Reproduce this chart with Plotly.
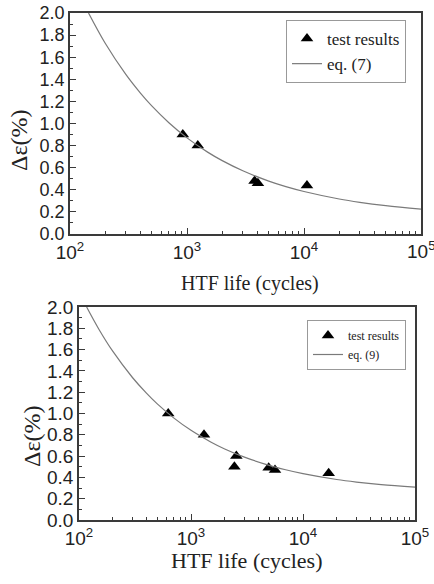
import plotly.graph_objects as go

# --- data ---
top_test_N = [921, 1236, 3780, 4036, 10600]
top_test_de = [0.90, 0.80, 0.48, 0.46, 0.44]
top_curve_N = [144, 200, 300, 400, 500, 700, 1000, 1500, 2000, 3000, 5000, 7000,
               10000, 20000, 30000, 50000, 100000]
top_curve_de = [2.0, 1.726, 1.444, 1.275, 1.159, 1.007, 0.870, 0.741, 0.664, 0.572,
                0.479, 0.429, 0.385, 0.317, 0.287, 0.257, 0.226]

bot_test_N = [626, 1306, 2540, 2440, 4935, 5623, 16950]
bot_test_de = [1.00, 0.80, 0.60, 0.50, 0.49, 0.47, 0.44]
bot_curve_N = [117, 150, 200, 300, 400, 500, 700, 1000, 1500, 2000, 3000, 5000, 7000,
               10000, 20000, 30000, 50000, 100000]
bot_curve_de = [2.0, 1.794, 1.585, 1.338, 1.191, 1.090, 0.959, 0.842, 0.733, 0.667,
                0.590, 0.513, 0.472, 0.435, 0.380, 0.356, 0.332, 0.308]

x_major = [100, 1000, 10000, 100000]
x_major_text = ["10<sup>2</sup>", "10<sup>3</sup>", "10<sup>4</sup>", "10<sup>5</sup>"]
x_minor = [m * 10 ** e for e in (2, 3, 4) for m in range(2, 10)]

W, H = 434, 584
SANS = "Liberation Sans, Arial, sans-serif"
SERIF = "Liberation Serif, Times New Roman, serif"
AX = "#3a3a3a"

fig = go.Figure()

fig.add_trace(go.Scatter(x=top_test_N, y=top_test_de, mode="markers", name="test results",
                         marker=dict(symbol="triangle-up", size=11, color="black"),
                         xaxis="x", yaxis="y", legend="legend"))
fig.add_trace(go.Scatter(x=top_curve_N, y=top_curve_de, mode="lines", name="eq. (7)",
                         line=dict(color="#7a7a7a", width=1.2, shape="spline"),
                         xaxis="x", yaxis="y", legend="legend"))
fig.add_trace(go.Scatter(x=bot_test_N, y=bot_test_de, mode="markers", name="test results",
                         marker=dict(symbol="triangle-up", size=11, color="black"),
                         xaxis="x2", yaxis="y2", legend="legend2"))
fig.add_trace(go.Scatter(x=bot_curve_N, y=bot_curve_de, mode="lines", name="eq. (9)",
                         line=dict(color="#7a7a7a", width=1.2, shape="spline"),
                         xaxis="x2", yaxis="y2", legend="legend2"))


def xax(domain, anchor, size):
    return dict(domain=domain, anchor=anchor, type="log", range=[2, 5], automargin=False,
                tickvals=x_major, ticktext=x_major_text, ticks="inside", ticklen=6,
                tickcolor=AX, showline=True, linecolor=AX, linewidth=1.5, mirror=True,
                showgrid=False, zeroline=False,
                tickfont=dict(family=SANS, size=size, color="#222"),
                minor=dict(tickvals=x_minor, ticks="inside", ticklen=3, tickcolor=AX,
                           showgrid=False))


def yax(domain, anchor, size):
    return dict(domain=domain, anchor=anchor, range=[0, 2.0], dtick=0.2, tick0=0,
                automargin=False,
                tickformat=".1f", ticks="inside", ticklen=6, tickcolor=AX,
                showline=True, linecolor=AX, linewidth=1.5, mirror=True,
                showgrid=False, zeroline=False,
                tickfont=dict(family=SANS, size=size, color="#222"),
                minor=dict(dtick=0.1, ticks="inside", ticklen=3, tickcolor=AX,
                           showgrid=False))


def title(text, x, y, size, angle=0):
    return dict(text=text, x=x / W, y=1 - y / H, xref="paper", yref="paper",
                xanchor="center", yanchor="middle", showarrow=False, textangle=angle,
                font=dict(family=SERIF, size=size, color="#222"))


fig.update_layout(
    width=W, height=H, margin=dict(l=0, r=0, t=0, b=0, autoexpand=False),
    paper_bgcolor="white", plot_bgcolor="white",
    xaxis=xax([70 / W, 421 / W], "y", 19),
    yaxis=yax([1 - 234 / H, 1 - 13 / H], "x", 18),
    xaxis2=xax([79 / W, 415 / W], "y2", 19),
    yaxis2=yax([1 - 520 / H, 1 - 307 / H], "x2", 19),
    legend=dict(x=406 / W, y=1 - 20 / H, xanchor="right", yanchor="top",
                bgcolor="white", bordercolor="#999", borderwidth=1,
                font=dict(family=SERIF, size=17, color="#222"),
                itemwidth=30, tracegroupgap=0),
    legend2=dict(x=406 / W, y=1 - 320 / H, xanchor="right", yanchor="top",
                 bgcolor="white", bordercolor="#999", borderwidth=1,
                 font=dict(family=SERIF, size=12, color="#222"),
                 itemwidth=30, tracegroupgap=0),
    showlegend=True,
    annotations=[
        title("HTF life (cycles)", 250, 283, 20),
        title("Δε(%)", 19, 140, 24, -90),
        title("HTF life (cycles)", 247, 560, 22),
        title("Δε(%)", 32, 436, 24, -90),
        # top axis "10^5" label runs past the right edge (clipped as in the reference)
        dict(text=x_major_text[-1], x=5, xref="x", y=1 - 250 / H, yref="paper",
             xanchor="center", yanchor="middle", showarrow=False,
             font=dict(family=SANS, size=19, color="#222")),
    ],
)

fig.write_html("out.html", config={"displayModeBar": False},
               post_script="document.body.style.margin='0';document.body.style.padding='0';")
